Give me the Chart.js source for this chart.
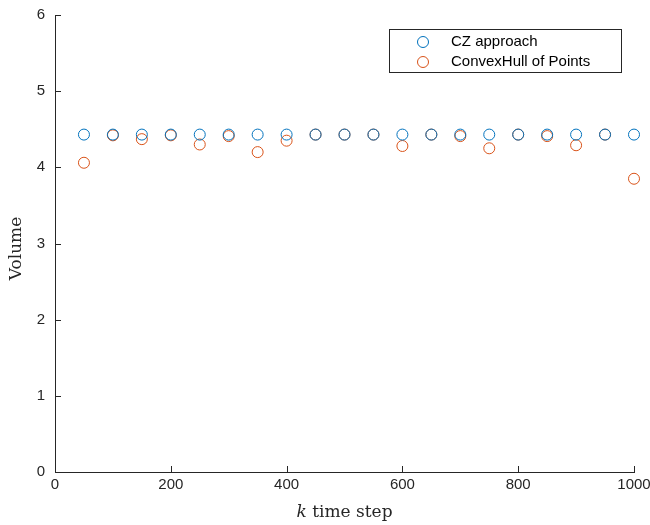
<!DOCTYPE html>
<html>
<head>
<meta charset="utf-8">
<script src="https://cdn.jsdelivr.net/npm/chart.js@4.4.0/dist/chart.umd.min.js"></script>
<style>
  html, body { margin: 0; padding: 0; background: #fff; }
  #wrap { width: 650px; height: 525px; }
</style>
</head>
<body>
<div id="wrap"><canvas id="vol-chart" width="650" height="525"></canvas></div>
<script>
const steps = [50, 100, 150, 200, 250, 300, 350, 400, 450, 500, 550, 600, 650, 700, 750, 800, 850, 900, 950, 1000];
const czVolume = [4.43, 4.43, 4.43, 4.43, 4.43, 4.43, 4.43, 4.43, 4.43, 4.43, 4.43, 4.43, 4.43, 4.43, 4.43, 4.43, 4.43, 4.43, 4.43, 4.43];
const hullVolume = [4.06, 4.42, 4.37, 4.42, 4.30, 4.41, 4.20, 4.35, 4.43, 4.43, 4.43, 4.28, 4.43, 4.41, 4.25, 4.43, 4.41, 4.29, 4.43, 3.85];
const xTicks = [0, 200, 400, 600, 800, 1000];
const yTicks = [0, 1, 2, 3, 4, 5, 6];

const blue = "#0072BD";
const orange = "#D95319";
const axisColor = "#262626";
const serif = "'DejaVu Serif', 'Liberation Serif', serif";
const sans = "'Liberation Sans', Arial, sans-serif";

const toPts = (ys) => steps.map((k, i) => ({ x: k, y: ys[i] }));

// matlab-style inward ticks, axis titles and legend box
const decor = {
  id: "decor",
  afterDraw(chart) {
    const ctx = chart.ctx;
    const xs = chart.scales.x, ys = chart.scales.y;
    const area = chart.chartArea;
    ctx.save();
    ctx.strokeStyle = axisColor;
    ctx.lineWidth = 1;
    ctx.beginPath();
    xTicks.forEach(v => {
      const px = Math.round(xs.getPixelForValue(v)) + 0.5;
      ctx.moveTo(px, area.bottom);
      ctx.lineTo(px, area.bottom - 6);
    });
    yTicks.forEach(v => {
      const py = Math.round(ys.getPixelForValue(v)) + 0.5;
      ctx.moveTo(area.left, py);
      ctx.lineTo(area.left + 6, py);
    });
    ctx.stroke();

    // axis titles
    ctx.fillStyle = axisColor;
    ctx.textBaseline = "middle";
    ctx.textAlign = "center";
    ctx.save();
    ctx.translate(17, (area.top + area.bottom) / 2 + 5);
    ctx.rotate(-Math.PI / 2);
    ctx.font = "17px " + serif;
    ctx.fillText("Volume", 0, 0);
    ctx.restore();

    const cx = (area.left + area.right) / 2;
    ctx.font = "italic 17px " + serif;
    const kW = ctx.measureText("k").width;
    ctx.font = "17px " + serif;
    const rest = " time step";
    const rW = ctx.measureText(rest).width;
    let sx = cx - (kW + rW) / 2;
    ctx.textAlign = "left";
    ctx.font = "italic 17px " + serif;
    ctx.fillText("k", sx, 513);
    ctx.font = "17px " + serif;
    ctx.fillText(rest, sx + kW, 513);

    // legend
    ctx.fillStyle = "#fff";
    ctx.fillRect(389.5, 29.5, 232, 43);
    ctx.strokeStyle = axisColor;
    ctx.strokeRect(389.5, 29.5, 232, 43);
    const items = [["CZ approach", blue, 42], ["ConvexHull of Points", orange, 62]];
    ctx.font = "15px " + sans;
    items.forEach(([label, col, y]) => {
      ctx.beginPath();
      ctx.strokeStyle = col;
      ctx.arc(423, y, 5.5, 0, Math.PI * 2);
      ctx.stroke();
      ctx.fillStyle = "#000";
      ctx.fillText(label, 451, y);
    });
    ctx.restore();
  }
};

new Chart(document.getElementById("vol-chart"), {
  type: "scatter",
  data: {
    datasets: [
      {
        label: "CZ approach",
        data: toPts(czVolume),
        borderColor: blue,
        backgroundColor: "rgba(0,0,0,0)",
        borderWidth: 1,
        pointRadius: 5.5,
        clip: false
      },
      {
        label: "ConvexHull of Points",
        data: toPts(hullVolume),
        borderColor: orange,
        backgroundColor: "rgba(0,0,0,0)",
        borderWidth: 1,
        pointRadius: 5.5,
        clip: false
      }
    ]
  },
  options: {
    responsive: false,
    animation: false,
    layout: { padding: { top: 15, right: 16, left: 0, bottom: 0 } },
    plugins: { legend: { display: false }, tooltip: { enabled: false } },
    scales: {
      x: {
        type: "linear",
        min: 0,
        max: 1000,
        afterFit: (s) => { s.height = 53; s.paddingLeft = 0; s.paddingRight = 0; },
        afterBuildTicks: (s) => { s.ticks = xTicks.map(v => ({ value: v })); },
        grid: { display: true, drawOnChartArea: false, drawTicks: false },
        border: { display: true, color: axisColor, width: 1 },
        ticks: {
          padding: 4,
          color: axisColor,
          callback: (v) => String(v),
          font: { family: sans, size: 15 }
        }
      },
      y: {
        min: 0,
        max: 6,
        afterFit: (s) => { s.width = 55; s.paddingTop = 0; s.paddingBottom = 0; },
        afterBuildTicks: (s) => { s.ticks = yTicks.map(v => ({ value: v })); },
        grid: { display: true, drawOnChartArea: false, drawTicks: false },
        border: { display: true, color: axisColor, width: 1 },
        ticks: {
          padding: 10,
          color: axisColor,
          callback: (v) => String(v),
          font: { family: sans, size: 15 }
        }
      }
    }
  },
  plugins: [decor]
});
</script>
</body>
</html>
